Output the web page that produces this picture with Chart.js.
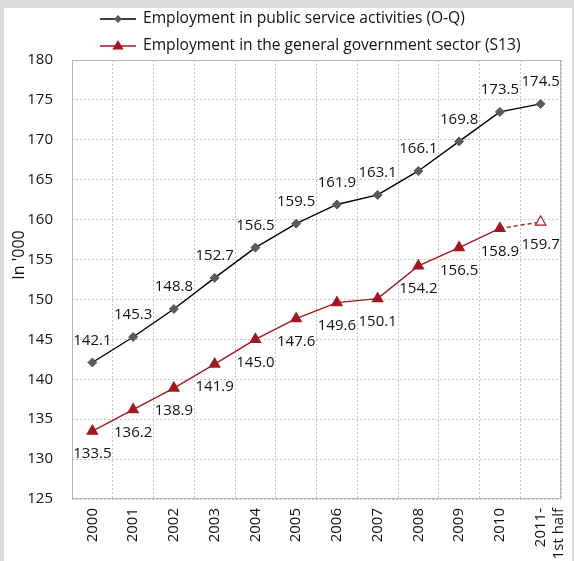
<!DOCTYPE html>
<html><head><meta charset="utf-8">
<script src="https://cdn.jsdelivr.net/npm/chart.js@4.4.1/dist/chart.umd.min.js"></script>
<style>html,body{margin:0;padding:0;background:#fff;}#wrap{position:relative;width:574px;height:561px;}</style>
</head><body><div id="wrap"><canvas id="c" width="574" height="561"></canvas></div>
<script>
const categories = ['2000','2001','2002','2003','2004','2005','2006','2007','2008','2009','2010',['2011-','1st half']];
const publicService = [142.1,145.3,148.8,152.7,156.5,159.5,161.9,163.1,166.1,169.8,173.5,174.5];
const generalGov = [133.5,136.2,138.9,141.9,145.0,147.6,149.6,150.1,154.2,156.5,158.9,159.7];
const seriesNames = ['Employment in public service activities (O-Q)','Employment in the general government sector (S13)'];
const yMin = 125, yMax = 180, yStep = 5;
const yTitle = "In '000";

const FONT = "'Open Sans', 'Noto Sans', sans-serif";
const BLACK = '#000000', GREY = '#5a5a5a', RED = '#a3181e', TXT = '#111111';
const lastIdx = generalGov.length - 1;

const bgPlugin = {
  id: 'bg',
  beforeDraw(chart) {
    const ctx = chart.ctx;
    ctx.save();
    ctx.fillStyle = '#dcdcdc';
    ctx.fillRect(0, 0, chart.width, chart.height);
    ctx.fillStyle = '#ffffff';
    ctx.fillRect(4, 8, chart.width - 6, chart.height - 8);
    ctx.restore();
  }
};

function drawDiamond(ctx, x, y, r, fill) {
  ctx.beginPath();
  ctx.moveTo(x, y - r); ctx.lineTo(x + r, y); ctx.lineTo(x, y + r); ctx.lineTo(x - r, y); ctx.closePath();
  ctx.fillStyle = fill; ctx.fill();
}
function drawTri(ctx, x, y, r, fill) {
  ctx.beginPath();
  ctx.moveTo(x, y - r); ctx.lineTo(x + r * 0.95, y + r * 0.6); ctx.lineTo(x - r * 0.95, y + r * 0.6); ctx.closePath();
  ctx.fillStyle = fill; ctx.fill();
}

const decoPlugin = {
  id: 'deco',
  beforeDatasetsDraw(chart) {
    const {ctx, chartArea: a} = chart;
    ctx.save();
    ctx.strokeStyle = '#b4b4b4';
    ctx.lineWidth = 1;
    ctx.strokeRect(Math.round(a.left) + 0.5, Math.round(a.top) + 0.5, Math.round(a.right - a.left) - 1, Math.round(a.bottom - a.top) - 1);
    ctx.restore();
  },
  afterDatasetsDraw(chart) {
    const ctx = chart.ctx;
    ctx.save();
    ctx.font = '15px ' + FONT;
    ctx.fillStyle = TXT;
    ctx.textAlign = 'center';
    ctx.textBaseline = 'middle';
    chart.data.datasets.forEach((ds, di) => {
      const meta = chart.getDatasetMeta(di);
      meta.data.forEach((pt, i) => {
        const v = ds.data[i].toFixed(1);
        if (di === 0) ctx.fillText(v, pt.x, pt.y - 22);
        else ctx.fillText(v, pt.x, pt.y + 23);
      });
    });
    // legend
    const rows = [{y: 19, color: BLACK, mk: 'd'}, {y: 46, color: RED, mk: 't'}];
    rows.forEach((r, i) => {
      ctx.strokeStyle = r.color; ctx.lineWidth = 1.3;
      ctx.beginPath(); ctx.moveTo(100, r.y); ctx.lineTo(136, r.y); ctx.stroke();
      if (r.mk === 'd') drawDiamond(ctx, 118, r.y, 4, GREY);
      else drawTri(ctx, 118, r.y, 6, RED);
      ctx.fillStyle = TXT;
      ctx.textAlign = 'left';
      ctx.font = '15.6px ' + FONT;
      ctx.fillText(seriesNames[i], 143, r.y);
    });
    // y title
    ctx.translate(19, 255);
    ctx.rotate(-Math.PI / 2);
    ctx.textAlign = 'center';
    ctx.font = '16px ' + FONT;
    ctx.fillText(yTitle, 0, 0);
    ctx.restore();
  }
};

new Chart(document.getElementById('c'), {
  type: 'line',
  data: {
    labels: categories,
    datasets: [
      {
        label: seriesNames[0], data: publicService,
        borderColor: BLACK, borderWidth: 1.4,
        pointStyle: 'rectRot', pointRadius: 4.5,
        pointBackgroundColor: GREY, pointBorderColor: GREY, pointBorderWidth: 1,
        tension: 0
      },
      {
        label: seriesNames[1], data: generalGov,
        borderColor: RED, borderWidth: 1.4,
        pointStyle: 'triangle', pointRadius: 6,
        pointBackgroundColor: generalGov.map((v, i) => i === lastIdx ? '#ffffff' : RED),
        pointBorderColor: RED, pointBorderWidth: 1.2,
        segment: { borderDash: c => c.p1DataIndex === lastIdx ? [4, 3] : undefined },
        tension: 0
      }
    ]
  },
  options: {
    responsive: false,
    animation: false,
    layout: { padding: { top: 60, right: 13, left: 0, bottom: 0 } },
    plugins: { legend: { display: false }, tooltip: { enabled: false } },
    scales: {
      x: {
        type: 'category', offset: true,
        grid: { offset: true, color: '#c4c4c4', drawTicks: false },
        border: { display: false, dash: [2, 2] },
        ticks: { color: TXT, font: { size: 15, family: FONT }, minRotation: 90, maxRotation: 90, padding: 9, autoSkip: false },
        afterFit(s) { s.height = 62; s.paddingLeft = 0; s.paddingRight = 0; }
      },
      y: {
        min: yMin, max: yMax,
        grid: { color: '#c4c4c4', drawTicks: false },
        border: { display: false, dash: [2, 2] },
        ticks: { stepSize: yStep, color: TXT, font: { size: 15, family: FONT }, padding: 19 },
        afterFit(s) { s.width = 72; s.paddingTop = 0; s.paddingBottom = 0; }
      }
    }
  },
  plugins: [bgPlugin, decoPlugin]
});
</script>
</body></html>
